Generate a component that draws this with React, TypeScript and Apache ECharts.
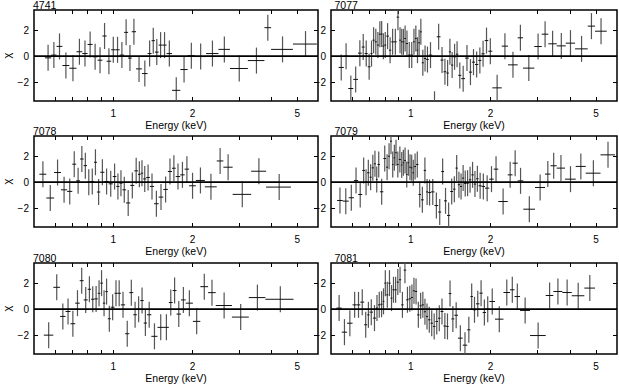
import React, { useEffect, useRef } from 'react';
import * as echarts from 'echarts';

// ---- data (energies in keV = bin edges, residuals in sigma) ----
const panelNames = ['4741', '7077', '7078', '7079', '7080', '7081'];

const edges4741 = [0.550, 0.581, 0.609, 0.641, 0.681, 0.725, 0.763, 0.799, 0.835, 0.872,
  0.910, 0.944, 0.982, 1.019, 1.058, 1.100, 1.139, 1.176, 1.221, 1.286,
  1.351, 1.399, 1.440, 1.488, 1.539, 1.595, 1.673, 1.799, 1.918, 2.044,
  2.254, 2.511, 2.777, 3.248, 3.755, 3.980, 4.819, 5.94];
const chi4741 = [-0.13, 0.08, 0.75, -0.72, -0.93, 0.34, 0.2, 0.9, -0.05, -0.31,
  1.55, -0.39, 0.49, 0.49, 0.08, 1.83, -0.15, 1.88, -0.98, -1.34,
  0.2, 1.19, 0.31, 0.85, 0.85, 0.2, -2.63, -1.03, 0.03, -0.03,
  0.2, 0.52, -0.95, -0.34, 2.19, 0.52, 0.93];

const edges7077 = [0.534, 0.559, 0.581, 0.607, 0.632, 0.653, 0.670, 0.688, 0.705, 0.717,
  0.731, 0.745, 0.758, 0.771, 0.782, 0.794, 0.808, 0.827, 0.844, 0.864,
  0.885, 0.904, 0.918, 0.931, 0.945, 0.959, 0.976, 0.998, 1.019, 1.037,
  1.053, 1.067, 1.083, 1.100, 1.121, 1.143, 1.169, 1.205, 1.253, 1.295,
  1.329, 1.362, 1.392, 1.418, 1.447, 1.479, 1.511, 1.551, 1.602, 1.657,
  1.702, 1.747, 1.798, 1.847, 1.901, 1.961, 2.031, 2.204, 2.328, 2.532,
  2.652, 2.925, 3.120, 3.304, 3.554, 3.843, 4.167, 4.653, 4.958, 5.488];
const chi7077 = [-0.87, 0.0, -2.49, -1.79, 0.23, 0.7, 0.2, -0.82, 0.2, 1.23,
  1.1, 0.85, 1.69, 1.7, 0.77, 0.85, 1.54, 0.46, 1.1, 1.1,
  3.0, 1.23, 1.1, 1.1, 1.36, 0.97, 0.08, 0.08, 1.1, 1.36,
  0.46, 1.03, 1.87, -0.51, -0.18, -0.26, 0.08, -3.7, 1.49, -0.3,
  -1.2, -1.3, 0.33, -0.69, -0.05, 0.15, -1.48, -1.73, -0.15, -1.23,
  -0.46, -0.64, -0.33, 0.18, 1.2, 0.38, -2.44, 0.77, -0.67, 1.41,
  -0.92, 0.74, 1.69, 0.95, 0.79, 1.0, 0.56, 2.31, 1.92];

const edges7078 = [0.524, 0.557, 0.596, 0.633, 0.668, 0.699, 0.723, 0.748, 0.772, 0.795,
  0.820, 0.845, 0.867, 0.893, 0.926, 0.961, 0.996, 1.028, 1.056, 1.084,
  1.119, 1.161, 1.203, 1.242, 1.272, 1.300, 1.335, 1.378, 1.430, 1.488,
  1.550, 1.613, 1.673, 1.728, 1.797, 1.868, 1.943, 2.061, 2.229, 2.474,
  2.622, 2.843, 3.344, 3.810, 4.734];
const chi7078 = [0.61, -1.22, 0.74, -0.59, -0.71, 1.38, 0.1, 1.78, 1.27, 0.0,
  0.05, 1.53, -0.76, 0.76, 0.05, -0.13, 0.43, -0.33, -0.08, -0.59,
  -1.6, -0.25, 0.87, 0.6, 0.69, 0.25, 0.36, -0.33, -1.66, -1.15,
  -0.56, 0.82, 1.07, 0.43, 0.56, 1.0, -0.28, 0.13, -0.36, 1.63,
  1.15, -0.94, 0.84, -0.38];

const edges7079 = [0.527, 0.554, 0.583, 0.610, 0.633, 0.656, 0.672, 0.684, 0.699, 0.712,
  0.726, 0.739, 0.749, 0.765, 0.788, 0.807, 0.821, 0.835, 0.849, 0.861,
  0.873, 0.886, 0.901, 0.918, 0.931, 0.944, 0.959, 0.972, 0.986, 1.001,
  1.015, 1.029, 1.047, 1.069, 1.093, 1.119, 1.142, 1.163, 1.192, 1.229,
  1.269, 1.303, 1.335, 1.370, 1.409, 1.445, 1.475, 1.505, 1.534, 1.562,
  1.590, 1.620, 1.656, 1.692, 1.729, 1.764, 1.803, 1.851, 1.906, 1.977,
  2.056, 2.139, 2.322, 2.421, 2.532, 2.659, 2.943, 3.210, 3.368, 3.554,
  3.820, 4.192, 4.573, 5.200, 5.898];
const chi7079 = [-1.41, -1.46, -1.2, 0.12, -0.95, 0.9, 0.0, 0.72, 0.38, 1.1,
  1.41, 0.2, 1.36, -0.74, 1.82, 1.15, 2.0, 3.15, 1.36, 1.87,
  2.26, 1.36, 1.74, 1.31, 1.49, 1.67, 0.59, 1.49, 1.15, 1.1,
  0.72, 1.2, 1.36, -0.95, -1.36, 0.9, -0.75, -0.8, -0.75, -1.8,
  -2.3, 0.82, -1.44, -2.56, -0.72, -0.54, 1.08, -0.2, -0.33, 0.31,
  -0.1, -0.08, 0.18, 0.56, -0.15, 0.26, -0.28, -0.33, -0.46, 0.23,
  1.0, -1.49, 0.56, 1.46, 0.1, -2.08, -0.41, 0.62, 1.26, 1.08,
  0.23, 1.21, 0.69, 2.1];

const edges7080 = [0.545, 0.592, 0.628, 0.659, 0.688, 0.717, 0.746, 0.772, 0.800, 0.824,
  0.848, 0.874, 0.893, 0.913, 0.933, 0.954, 0.979, 1.011, 1.038, 1.069,
  1.110, 1.151, 1.192, 1.230, 1.268, 1.306, 1.344, 1.396, 1.473, 1.558,
  1.627, 1.682, 1.740, 1.809, 1.886, 2.008, 2.143, 2.294, 2.452, 2.826,
  3.275, 3.787, 4.843];
const chi7080 = [-2.0, 1.68, -0.56, -0.18, -1.12, 0.46, 2.19, 0.71, 1.53, 0.76,
  0.79, 1.22, 2.0, 0.46, 1.35, -0.74, 0.15, 1.22, 1.22, 0.33,
  -1.89, 1.27, -0.43, 0.0, 0.66, -1.07, -0.43, -2.09, -1.4, -1.4,
  0.51, 1.43, -0.38, 0.71, 0.46, -0.94, 1.73, 1.27, 0.28, -0.61,
  0.89, 0.76];

const edges7081 = [0.524, 0.549, 0.575, 0.603, 0.625, 0.645, 0.667, 0.685, 0.699, 0.720,
  0.739, 0.752, 0.769, 0.783, 0.795, 0.808, 0.823, 0.839, 0.853, 0.868,
  0.885, 0.902, 0.920, 0.940, 0.961, 0.982, 1.001, 1.019, 1.037, 1.057,
  1.079, 1.100, 1.121, 1.141, 1.162, 1.187, 1.212, 1.239, 1.267, 1.295,
  1.328, 1.361, 1.390, 1.423, 1.460, 1.507, 1.570, 1.633, 1.679, 1.716,
  1.763, 1.816, 1.868, 1.923, 1.980, 2.079, 2.237, 2.369, 2.463, 2.584,
  2.818, 3.230, 3.451, 3.731, 4.049, 4.517, 4.958];
const chi7081 = [0.08, -1.77, -1.08, 0.33, 0.33, 0.54, -1.2, -0.44, -0.23, -0.69,
  0.08, 0.33, 0.38, 0.6, 2.0, 1.1, 2.0, 0.85, 1.49, 1.49,
  2.08, 2.26, 0.33, 3.0, 0.72, 0.8, 0.9, 1.41, 1.36, -0.44,
  0.26, 0.33, -0.2, -0.56, -0.82, -1.08, -1.33, -0.95, -0.7, -0.18,
  -1.3, -1.33, 1.2, -0.75, -0.47, -2.23, -2.77, -1.59, 0.97, -0.05,
  0.41, 1.23, -0.26, 0.0, 0.59, -0.77, 1.28, 1.49, 0.97, -0.1,
  -2.03, 1.05, 1.36, 1.28, 1.03, 1.62];

const CHI_ERR = 1;
const E_MIN = 0.5;
const E_MAX = 6;
const CHI_MIN = -3.45;
const CHI_MAX = 3.55;
const energyTicks = [0.6, 0.7, 0.8, 0.9, 1, 2, 3, 4, 5];
const energyLabels = [1, 2, 5];
const chiTicks = [-2, 0, 2];

const panels = [
  { name: panelNames[0], edges: edges4741, chi: chi4741 },
  { name: panelNames[1], edges: edges7077, chi: chi7077 },
  { name: panelNames[2], edges: edges7078, chi: chi7078 },
  { name: panelNames[3], edges: edges7079, chi: chi7079 },
  { name: panelNames[4], edges: edges7080, chi: chi7080 },
  { name: panelNames[5], edges: edges7081, chi: chi7081 },
];

const FONT = '"Liberation Sans", Arial, Helvetica, sans-serif';

export default function App() {
  const ref = useRef<HTMLDivElement>(null);

  useEffect(() => {
    if (!ref.current) return;
    const chart = echarts.init(ref.current, null, { renderer: 'svg' });
    const lg = Math.log10;
    const grids: any[] = [];
    const xAxes: any[] = [];
    const yAxes: any[] = [];
    const series: any[] = [];
    const graphics: any[] = [];
    const lefts = [32, 331];
    const tops = [10, 136, 263];
    const W = 286;
    const H = 91;

    panels.forEach((p, i) => {
      const col = i % 2;
      const row = Math.floor(i / 2);
      const left = lefts[col];
      const top = tops[row];
      grids.push({
        left, top, width: W, height: H, show: true,
        borderColor: '#000', borderWidth: 1.5, backgroundColor: 'transparent',
      });
      const tickStyle = {
        show: true, inside: true, length: 4,
        customValues: energyTicks.map(lg),
        lineStyle: { color: '#000', width: 1 },
      };
      const xBase = {
        type: 'value', gridIndex: i, min: lg(E_MIN), max: lg(E_MAX),
        splitLine: { show: false }, axisLine: { show: false, onZero: false },
      };
      xAxes.push({
        ...xBase, position: 'bottom',
        name: 'Energy (keV)', nameLocation: 'middle', nameGap: 18,
        nameTextStyle: { fontFamily: FONT, fontSize: 10.5, color: '#000' },
        axisTick: tickStyle,
        axisLabel: {
          customValues: energyLabels.map(lg),
          formatter: (v: number) => String(Math.round(Math.pow(10, v))),
          margin: 7, fontFamily: FONT, fontSize: 10, color: '#000',
        },
      });
      xAxes.push({
        ...xBase, position: 'top',
        axisTick: tickStyle, axisLabel: { show: false },
      });
      const yTick = {
        show: true, inside: true, length: 4, customValues: chiTicks,
        lineStyle: { color: '#000', width: 1 },
      };
      const yBase = {
        type: 'value', gridIndex: i, min: CHI_MIN, max: CHI_MAX,
        splitLine: { show: false }, axisLine: { show: false, onZero: false },
      };
      yAxes.push({
        ...yBase, position: 'left',
        name: col === 0 ? 'χ' : '', nameLocation: 'middle', nameRotate: 90, nameGap: 22,
        nameTextStyle: { fontFamily: FONT, fontSize: 11, color: '#000' },
        axisTick: yTick,
        axisLabel: {
          customValues: chiTicks,
          formatter: (v: number) => (v < 0 ? '\u2212' + Math.abs(v) : String(v)),
          margin: 5, fontFamily: FONT, fontSize: 10, color: '#000',
        },
      });
      yAxes.push({
        ...yBase, position: 'right',
        axisTick: yTick, axisLabel: { show: false },
      });

      const data = p.chi.map((c, k) => {
        const lo = p.edges[k];
        const hi = p.edges[k + 1];
        return [lg((lo + hi) / 2), c, lg(lo), lg(hi)];
      });

      series.push({
        type: 'custom',
        xAxisIndex: 2 * i,
        yAxisIndex: 2 * i,
        clip: true,
        silent: true,
        encode: { x: 0, y: 1 },
        data,
        renderItem: (params: any, api: any) => {
          const x = api.value(0);
          const y = api.value(1);
          const c = api.coord([x, y]);
          const l = api.coord([api.value(2), y]);
          const r = api.coord([api.value(3), y]);
          const t = api.coord([x, y + CHI_ERR]);
          const b = api.coord([x, y - CHI_ERR]);
          return {
            type: 'group',
            children: [
              { type: 'line', shape: { x1: c[0], y1: t[1], x2: c[0], y2: b[1] }, style: { stroke: '#555', lineWidth: 1.2 } },
              { type: 'line', shape: { x1: l[0], y1: c[1], x2: r[0], y2: c[1] }, style: { stroke: '#111', lineWidth: 1 } },
            ],
          };
        },
      });
      series.push({
        type: 'line',
        xAxisIndex: 2 * i,
        yAxisIndex: 2 * i,
        data: [[lg(E_MIN), 0], [lg(E_MAX), 0]],
        showSymbol: false,
        symbol: 'none',
        silent: true,
        z: 5,
        lineStyle: { color: '#000', width: 1.6 },
      });

      graphics.push({
        type: 'text',
        x: col === 0 ? left + 1 : left + 3.5,
        y: top,
        style: {
          text: p.name, fill: '#000', font: '10.5px ' + FONT,
          verticalAlign: 'bottom', align: 'left',
        },
      });
    });

    chart.setOption({
      animation: false,
      backgroundColor: '#fff',
      grid: grids,
      xAxis: xAxes,
      yAxis: yAxes,
      series,
      graphic: graphics,
    });
    return () => chart.dispose();
  }, []);

  return (
    <div
      ref={ref}
      style={{ position: 'fixed', left: 0, top: 0, width: 619, height: 385, background: '#fff' }}
    />
  );
}
